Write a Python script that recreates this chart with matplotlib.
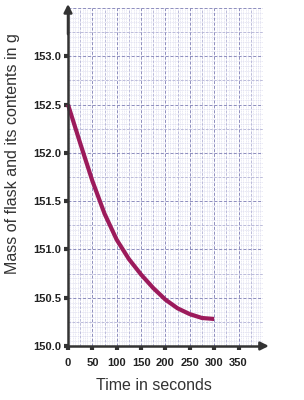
import matplotlib
matplotlib.use("Agg")
import matplotlib.pyplot as plt
import numpy as np

time_s = [0, 25, 50, 75, 100, 125, 150, 175, 200, 225, 250, 275, 300]
mass_g = [152.50, 152.10, 151.71, 151.37, 151.10, 150.90, 150.74, 150.60, 150.48, 150.39, 150.33, 150.29, 150.28]
x_ticks = [0, 50, 100, 150, 200, 250, 300, 350]
y_ticks = [150.0, 150.5, 151.0, 151.5, 152.0, 152.5, 153.0]

plt.rcParams['font.family'] = ['Liberation Sans', 'DejaVu Sans']

fig = plt.figure(figsize=(3.04, 4.00), dpi=100)
ax = fig.add_axes([0.2237, 0.135, 0.641, 0.845])
ax.set_xlim(0, 400)
ax.set_ylim(150.0, 153.5)

# fine grid
for xv in np.arange(0, 401, 5):
    ax.axvline(xv, color='#dcdcee', lw=0.45, ls=(0, (2, 1)), zorder=0)
for yv in np.arange(150.0, 153.51, 0.05):
    ax.axhline(yv, color='#dcdcee', lw=0.45, ls=(0, (2, 1)), zorder=0)
for xv in np.arange(25, 401, 50):
    ax.axvline(xv, color='#b4b4d6', lw=0.6, ls=(0, (3, 2)), zorder=0.5)
for yv in np.arange(150.25, 153.51, 0.5):
    ax.axhline(yv, color='#b4b4d6', lw=0.6, ls=(0, (3, 2)), zorder=0.5)
for xv in np.arange(50, 401, 50):
    ax.axvline(xv, color='#8e8ebe', lw=0.7, ls=(0, (3, 2)), zorder=0.6)
for yv in np.arange(150.5, 153.51, 0.5):
    ax.axhline(yv, color='#8e8ebe', lw=0.7, ls=(0, (3, 2)), zorder=0.6)

ax.plot(time_s, mass_g, color='#9c1a5b', lw=3, solid_capstyle='butt',
        solid_joinstyle='round', zorder=3, clip_on=False)

for s in ['top', 'right']:
    ax.spines[s].set_visible(False)
for s in ['left', 'bottom']:
    ax.spines[s].set_color('#333333')
    ax.spines[s].set_linewidth(1.8)
    ax.spines[s].set_zorder(4)

ax.set_xticks(x_ticks)
ax.set_yticks(y_ticks)
ax.set_xticklabels([str(v) for v in x_ticks], fontsize=8, fontweight='bold', color='#222222')
ax.set_yticklabels([f"{v:.1f}" for v in y_ticks], fontsize=8, fontweight='bold', color='#222222')
ax.tick_params(axis='both', direction='out', length=3, width=3, color='#333333')
ax.tick_params(axis='x', pad=6)
ax.tick_params(axis='y', pad=2)

# arrows
ax.annotate('', xy=(0, 153.5 + 0.07), xytext=(0, 153.2), xycoords='data',
            arrowprops=dict(arrowstyle='-|>', color='#333333', lw=1.8, mutation_scale=12),
            annotation_clip=False)
ax.annotate('', xy=(418, 150.0), xytext=(390, 150.0), xycoords='data',
            arrowprops=dict(arrowstyle='-|>', color='#333333', lw=1.8, mutation_scale=12),
            annotation_clip=False)

fig.text(0.507, 0.037, 'Time in seconds', fontsize=11.5, color='#333333', ha='center', va='center')
fig.text(0.042, 0.615, 'Mass of flask and its contents in g', fontsize=11.5, color='#333333',
         ha='center', va='center', rotation=90)

fig.savefig('out.png', dpi=100)
